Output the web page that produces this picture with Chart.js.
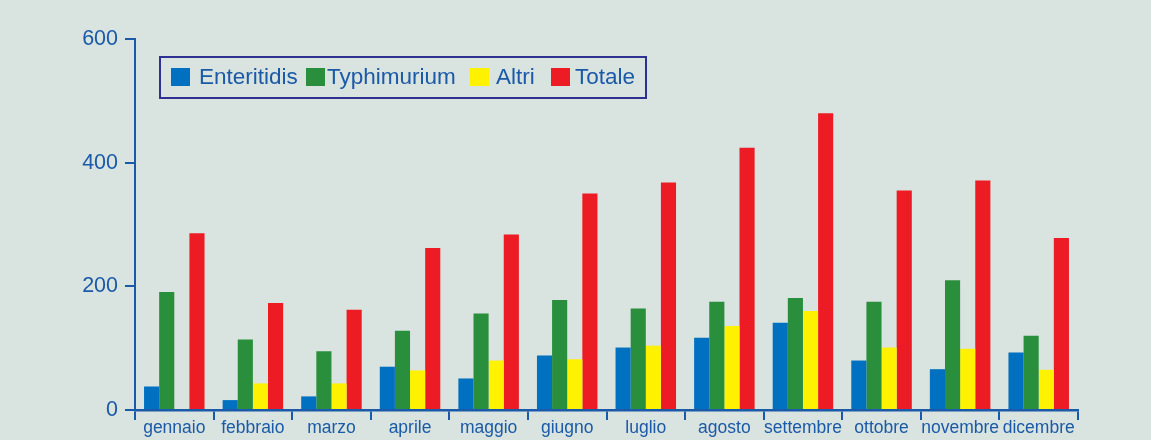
<!DOCTYPE html>
<html>
<head>
<meta charset="utf-8">
<script src="https://cdn.jsdelivr.net/npm/chart.js@4"></script>
<style>
  html, body { margin: 0; padding: 0; background: #d9e3df; }
  #wrap { position: relative; width: 1151px; height: 440px; }
  #legend {
    position: absolute; left: 159px; top: 56px; width: 488px; height: 43px;
    box-sizing: border-box; border: 2px solid #2e3192;
    font-family: "Liberation Sans", Arial, sans-serif; font-size: 22.5px; color: #1a5aa8;
  }
  #legend .sw { position: absolute; top: 10px; width: 19px; height: 18px; }
  #legend .tx { position: absolute; top: 6px; line-height: 26px; white-space: nowrap; }
</style>
</head>
<body>
<div id="wrap">
  <canvas id="c" width="1151" height="440"></canvas>
  <div id="legend"></div>
</div>
<script>
const categories = ["gennaio","febbraio","marzo","aprile","maggio","giugno","luglio","agosto","settembre","ottobre","novembre","dicembre"];
const seriesNames = ["Enteritidis","Typhimurium","Altri","Totale"];
const enteritidis = [38, 16, 22, 70, 51, 88, 101, 117, 141, 80, 66, 93];
const typhimurium = [191, 114, 95, 128, 156, 178, 164, 175, 181, 175, 210, 120];
const altri       = [0, 43, 43, 64, 80, 82, 104, 136, 160, 101, 99, 65];
const totale      = [286, 173, 162, 262, 284, 350, 368, 424, 480, 355, 371, 278];
const yTicks = [0, 200, 400, 600];

const colors = ["#0070c0", "#2a8f3c", "#fff200", "#ed1c24"];
const legendSwatchX = [10, 145, 309, 390];
const legendTextX = [38, 166, 335, 414];
const axisColor = "#1a5aa8";

const ctx = document.getElementById("c");
const chart = new Chart(ctx, {
  type: "bar",
  data: {
    labels: categories,
    datasets: [enteritidis, typhimurium, altri, totale].map((d, i) => ({
      label: seriesNames[i],
      data: d,
      backgroundColor: colors[i],
      borderWidth: 0,
      categoryPercentage: 0.77,
      barPercentage: 1.0
    }))
  },
  options: {
    responsive: false,
    animation: false,
    layout: { padding: { top: 39, right: 73, bottom: 0, left: 0 } },
    plugins: { legend: { display: false }, tooltip: { enabled: false } },
    scales: {
      x: {
        grid: { display: true, drawOnChartArea: false, drawTicks: true, tickLength: 10, color: axisColor, lineWidth: 2, offset: true },
        border: { display: true, color: axisColor, width: 2.5 },
        ticks: { color: axisColor, padding: -2, font: { family: "Liberation Sans", size: 17.5 }, maxRotation: 0, autoSkip: false },
        afterFit: (s) => { s.height = 30; }
      },
      y: {
        min: 0, max: 600,
        afterBuildTicks: (s) => { s.ticks = yTicks.map(v => ({ value: v })); },
        grid: { display: true, drawOnChartArea: false, drawTicks: true, tickLength: 10, color: axisColor, lineWidth: 2 },
        border: { display: true, color: axisColor, width: 2 },
        ticks: { color: axisColor, padding: 7, font: { family: "Liberation Sans", size: 21.5 } },
        afterFit: (s) => { s.width = 135; }
      }
    }
  }
});

const legend = document.getElementById("legend");
chart.data.datasets.forEach((ds, i) => {
  const sw = document.createElement("div");
  sw.className = "sw";
  sw.style.left = legendSwatchX[i] + "px";
  sw.style.background = ds.backgroundColor;
  const tx = document.createElement("div");
  tx.className = "tx";
  tx.style.left = legendTextX[i] + "px";
  tx.textContent = ds.label;
  legend.appendChild(sw);
  legend.appendChild(tx);
});
</script>
</body>
</html>
